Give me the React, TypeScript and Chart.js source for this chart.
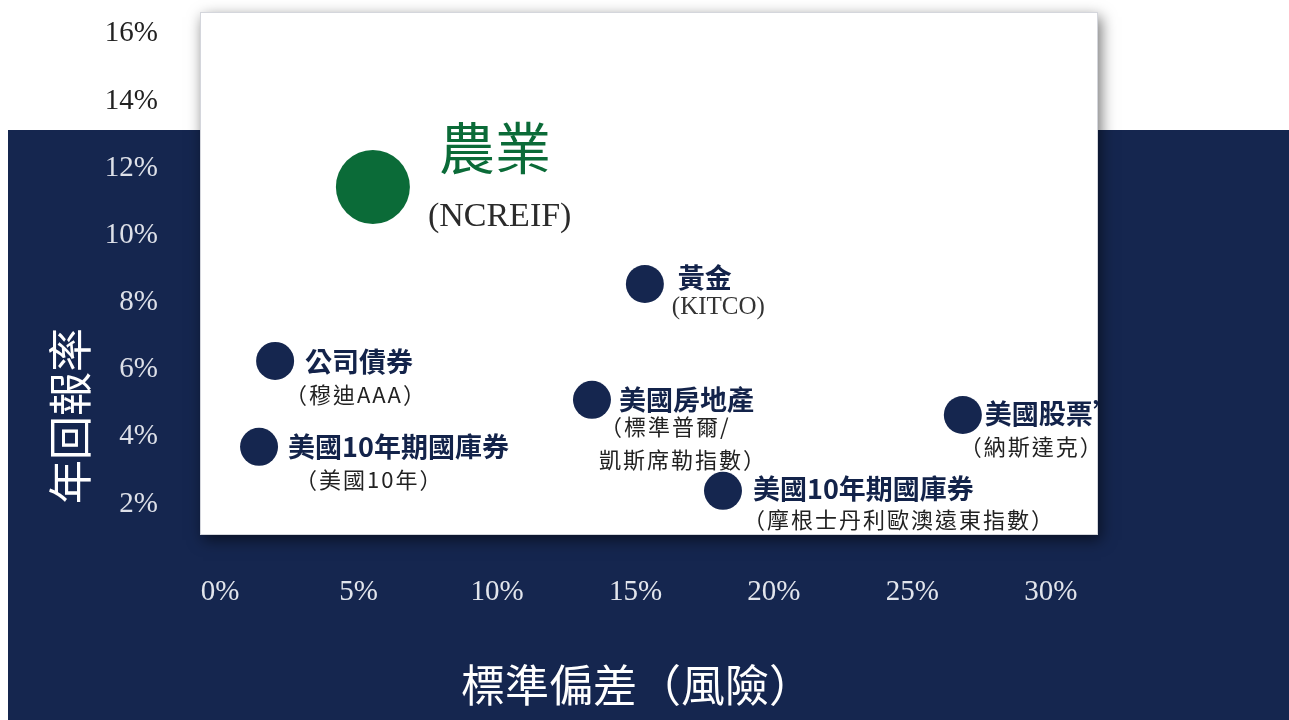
import React, { useEffect, useRef } from 'react';
import { Chart, registerables } from 'chart.js';

Chart.register(...registerables);

// ---- data ----
const assetNames = ['農業', '黃金', '公司債券', '美國10年期國庫券', '美國房地產', '美國10年期國庫券', '美國股票’'];
const assetSources = ['(NCREIF)', '(KITCO)', '（穆迪AAA）', '（美國10年）', '（標準普爾/\n凱斯席勒指數）', '（摩根士丹利歐澳遠東指數）', '（納斯達克）'];
const riskPct = [5.52, 15.34, 1.99, 1.41, 13.43, 18.16, 26.82];
const returnPct = [11.44, 8.55, 6.26, 3.7, 5.1, 2.39, 4.65];
const xTickValues = [0, 5, 10, 15, 20, 25, 30];
const yTickValues = [2, 4, 6, 8, 10, 12, 14, 16];
const xAxisTitle = '標準偏差（風險）';
const yAxisTitle = '年回報率';

// ---- styling / placement ----
const NAVY = '#15264f';
const DOT_NAVY = '#15264f';
const GREEN = '#0b6b38';
const SERIF = '"Liberation Serif", "DejaVu Serif", serif';
const CJK = '"Noto Sans CJK TC", "Noto Sans CJK SC", sans-serif';
const NAVY_TOP = 130;

// label offsets from the point centre (px): title (tx, ty), source (sx, sy)
const labelOffsets = [
  { tx: 66, ty: -39, sx: 55, sy: 30 },
  { tx: 33, ty: -6, sx: 27, sy: 23 },
  { tx: 30, ty: 1, sx: 10, sy: 34 },
  { tx: 29, ty: 0, sx: 36, sy: 33 },
  { tx: 27, ty: 0, sx: 8, sy: 27 },
  { tx: 30, ty: -2, sx: 20, sy: 29 },
  { tx: 22, ty: -1, sx: -3, sy: 32 },
];

const bgPlugin = {
  id: 'bgPlugin',
  beforeDraw(chart: any) {
    const { ctx, width, height, chartArea: a } = chart;
    ctx.save();
    ctx.fillStyle = '#ffffff';
    ctx.fillRect(0, 0, width, height);
    ctx.fillStyle = NAVY;
    ctx.fillRect(8, NAVY_TOP, width - 8, height - NAVY_TOP);
    ctx.shadowColor = 'rgba(0,0,0,0.55)';
    ctx.shadowBlur = 14;
    ctx.shadowOffsetX = 3;
    ctx.shadowOffsetY = 5;
    ctx.fillStyle = '#ffffff';
    ctx.fillRect(a.left, a.top, a.right - a.left, a.bottom - a.top);
    ctx.restore();
    ctx.save();
    ctx.strokeStyle = '#d4d6dc';
    ctx.lineWidth = 1;
    ctx.strokeRect(a.left + 0.5, a.top + 0.5, a.right - a.left - 1, a.bottom - a.top - 1);
    ctx.restore();
  },
};

const labelPlugin = {
  id: 'labelPlugin',
  afterDatasetsDraw(chart: any) {
    const { ctx, chartArea: a } = chart;
    ctx.save();
    ctx.textBaseline = 'middle';
    ctx.textAlign = 'left';
    let idx = 0;
    chart.data.datasets.forEach((ds: any, di: number) => {
      const meta = chart.getDatasetMeta(di);
      meta.data.forEach((pt: any) => {
        const i = idx++;
        const off = labelOffsets[i];
        const name = assetNames[i];
        const src = assetSources[i];
        if (i === 0) {
          ctx.fillStyle = GREEN;
          ctx.font = `400 56px ${CJK}`;
          ctx.fillText(name, pt.x + off.tx, pt.y + off.ty);
          ctx.fillStyle = '#2b2b2b';
          ctx.font = `34px ${SERIF}`;
          ctx.fillText(src, pt.x + off.sx, pt.y + off.sy);
        } else {
          ctx.fillStyle = '#13234a';
          ctx.font = `700 27px ${CJK}`;
          ctx.fillText(name, pt.x + off.tx, pt.y + off.ty);
          const latin = /^\(/.test(src);
          ctx.fillStyle = latin ? '#333333' : '#222222';
          ctx.font = latin ? `25px ${SERIF}` : `400 22px ${CJK}`;
          (ctx as any).letterSpacing = latin ? '0px' : '2px';
          src.split('\n').forEach((line, li) => {
            ctx.fillText(line, pt.x + off.sx - (li > 0 ? 1 : 0), pt.y + off.sy + li * 33);
          });
          (ctx as any).letterSpacing = '0px';
        }
      });
    });
    ctx.restore();

    // axis titles
    ctx.save();
    ctx.fillStyle = '#ffffff';
    ctx.font = `400 44px ${CJK}`;
    ctx.textBaseline = 'middle';
    ctx.textAlign = 'left';
    ctx.fillText(xAxisTitle, a.left + 261, 685);
    ctx.translate(70, 416);
    ctx.rotate(-Math.PI / 2);
    ctx.textAlign = 'center';
    ctx.fillText(yAxisTitle, 0, 0);
    ctx.restore();
  },
};

export default function App() {
  const ref = useRef<HTMLCanvasElement | null>(null);

  useEffect(() => {
    if (!ref.current) return;
    const pts = riskPct.map((x, i) => ({ x, y: returnPct[i] }));
    const chart = new Chart(ref.current, {
      type: 'scatter',
      data: {
        datasets: [
          {
            label: assetNames[0],
            data: pts.slice(0, 1),
            backgroundColor: GREEN,
            borderColor: GREEN,
            pointRadius: 37,
            pointHoverRadius: 37,
            borderWidth: 0,
          },
          {
            label: 'others',
            data: pts.slice(1),
            backgroundColor: DOT_NAVY,
            borderColor: DOT_NAVY,
            pointRadius: 19,
            pointHoverRadius: 19,
            borderWidth: 0,
          },
        ],
      },
      options: {
        responsive: false,
        animation: false,
        events: [],
        layout: { autoPadding: false, padding: { top: 12, right: 191, left: 0, bottom: 0 } },
        plugins: { legend: { display: false }, tooltip: { enabled: false } },
        scales: {
          x: {
            type: 'linear',
            min: -0.722,
            max: 31.7,
            grid: { display: false, drawTicks: false },
            border: { display: false },
            afterFit: (s: any) => {
              s.height = 185;
              s.paddingLeft = 0;
              s.paddingRight = 0;
            },
            afterBuildTicks: (s: any) => {
              s.ticks = xTickValues.map((v) => ({ value: v }));
            },
            ticks: {
              autoSkip: false,
              maxRotation: 0,
              padding: 40,
              color: '#e2e5ec',
              font: { family: SERIF, size: 29 },
              callback: (v: any) => `${v}%`,
            },
          },
          y: {
            type: 'linear',
            min: 1.075,
            max: 16.65,
            grid: { display: false, drawTicks: false },
            border: { display: false },
            afterFit: (s: any) => {
              s.width = 200;
              s.paddingTop = 0;
              s.paddingBottom = 0;
            },
            afterBuildTicks: (s: any) => {
              s.ticks = yTickValues.map((v) => ({ value: v }));
            },
            ticks: {
              autoSkip: false,
              padding: 42,
              color: (c: any) =>
                c.scale.getPixelForValue(c.tick.value) < NAVY_TOP ? '#222222' : '#dde0e8',
              font: { family: SERIF, size: 29 },
              callback: (v: any) => `${v}%`,
            },
          },
        },
      },
      plugins: [bgPlugin, labelPlugin],
    } as any);
    return () => chart.destroy();
  }, []);

  return (
    <div style={{ position: 'fixed', left: 0, top: 0, width: 1289, height: 720 }}>
      <canvas ref={ref} width={1289} height={720} style={{ width: 1289, height: 720, display: 'block' }} />
    </div>
  );
}
